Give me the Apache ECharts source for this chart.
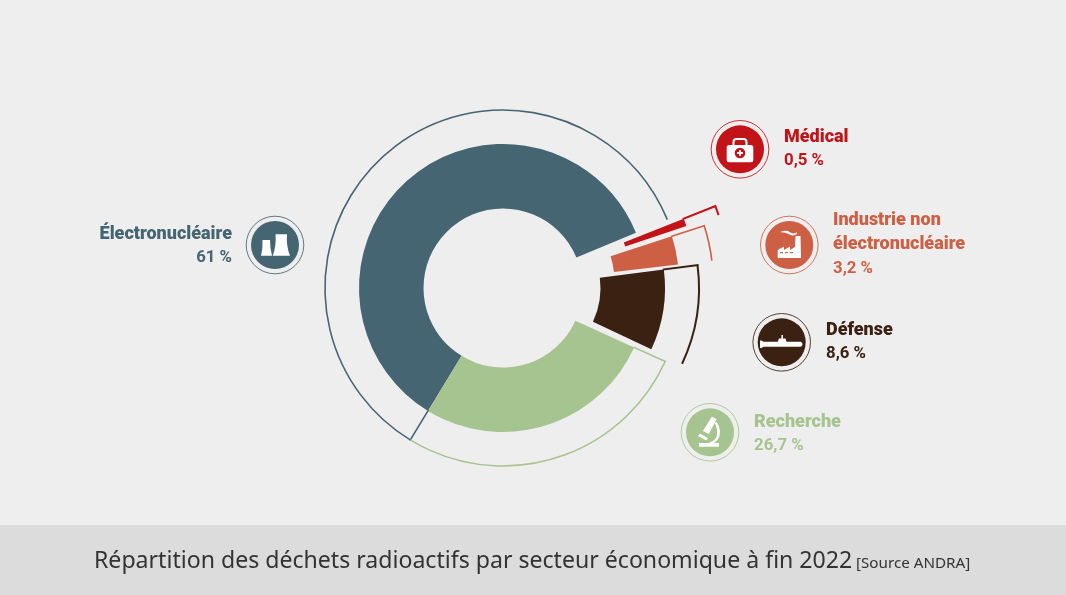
<!DOCTYPE html>
<html>
<head>
<meta charset="utf-8">
<title>Déchets radioactifs</title>
<style>
  html, body { margin: 0; padding: 0; background: #eeeeee; }
  #main { width: 1066px; height: 595px; }
</style>
</head>
<body>
<div id="main"></div>
<script src="https://cdn.jsdelivr.net/npm/echarts@6/dist/echarts.min.js"></script>
<script>
    // values
    var sectors = ['Électronucléaire', 'Médical', 'Industrie non électronucléaire', 'Défense', 'Recherche'];
    var shares = [61, 0.5, 3.2, 8.6, 26.7];
    var titleText = 'Répartition des déchets radioactifs par secteur économique à fin 2022';
    var sourceText = '[Source ANDRA]';

    // look of each slice, same order as sectors
    var colors = ['#466572', '#c21318', '#cd6044', '#3a2112', '#a6c48f'];
    var shifts = [[0, 0], [46.9, -16.1], [32, -7], [18, 0], [0, 0]];
    var edgeTrim = [[0.9, -2.7], [-1.8, -0.5], [0, 0], [-0.8, 0.8], [0, 0.9]];
    var outlineWidth = [1.6, 2, 1.6, 2, 1.6];
    var labelLines = [['Électronucléaire'], ['Médical'], ['Industrie non', 'électronucléaire'], ['Défense'], ['Recherche']];
    var labelPos = [[232, 234, 'right'], [784, 137, 'left'], [833, 220.5, 'left'], [826, 330, 'left'], [754, 422, 'left']];
    var iconPos = [[275, 245], [740, 149.3], [789.3, 245], [781.7, 342.3], [710, 432.3]];

    var cx = 503, cy = 288;
    var firstAngle = 210.5; // clockwise from 12 o'clock
    var r0 = 79.5, r1 = 144, r2 = 178;

    // clockwise angles of each slice
    var total = shares.reduce(function (a, b) { return a + b; }, 0);
    var cum = 0;
    var slices = shares.map(function (v, i) {
        var a = firstAngle + cum / total * 360;
        cum += v;
        var b = firstAngle + cum / total * 360;
        return { from: a + edgeTrim[i][0], to: b + edgeTrim[i][1] };
    });

    function toScreen(deg) {
        return (deg - 90) * Math.PI / 180;
    }

    var pieSeries = shares.map(function (v, i) {
        return {
            type: 'pie',
            name: sectors[i],
            center: [cx + shifts[i][0], cy + shifts[i][1]],
            radius: [r0, r1],
            startAngle: 90 - slices[i].from,
            endAngle: 90 - slices[i].to,
            silent: true,
            label: { show: false },
            labelLine: { show: false },
            itemStyle: { color: colors[i] },
            data: [{ name: sectors[i], value: v }]
        };
    });

    // thin arc around each slice, closed by a line on its first edge
    var outlineSeries = {
        type: 'custom',
        coordinateSystem: 'none',
        silent: true,
        clip: false,
        z: 5,
        data: shares.map(function (v) { return [v]; }),
        renderItem: function (params) {
            var i = params.dataIndex;
            var s = slices[i];
            var x = cx + shifts[i][0], y = cy + shifts[i][1];
            var a = toScreen(s.from);
            var style = { stroke: colors[i], lineWidth: outlineWidth[i], fill: 'none' };
            return {
                type: 'group',
                children: [{
                    type: 'arc',
                    shape: { cx: x, cy: y, r: r2, startAngle: a, endAngle: toScreen(s.to), clockwise: true },
                    style: style
                }, {
                    type: 'line',
                    shape: {
                        x1: x + r1 * Math.cos(a), y1: y + r1 * Math.sin(a),
                        x2: x + r2 * Math.cos(a), y2: y + r2 * Math.sin(a)
                    },
                    style: { stroke: colors[i], lineWidth: outlineWidth[i], lineCap: 'square' }
                }]
            };
        }
    };

    // white pictograms
    var glyphs = [
        { d: 'M262.5 240L270 240Q270 248 272 255.7L261 255.7Q263 248 262.5 240ZM275.5 234.3L287 234.3Q286 246 290 255.7L272.7 255.7Q276.5 246 275.5 234.3Z', box: [261, 234.3, 29, 21.4] },
        { d: 'M777.7 258V250L784 246.5V250L790 246.5V250L795 247L795.5 236H800.5L801 258Z', box: [777.7, 236, 23.3, 22] },
        { d: 'M780 232.5Q786 229.5 790 232.5Q794 235 797 232.5L797 234Q793 237 789 234.5Q785 232 780 232.5Z', box: [780, 230.8, 17, 4.6] },
        { d: 'M760 340.5H761.5L763.5 341.8H777.5L778.5 338.5H781V335H782.5V338.5H785L786 341.8H800Q803.5 344.2 800 346.8H763.5L761.5 348H760Z', box: [760, 335, 42.6, 13] },
        { d: 'M712 416.7L717 419L709 434L703 431ZM698 436L700 433.5L708 438L706.5 440.5ZM715 423L717 422Q722 430 719.5 437Q717 443 710 444L710 442Q715.5 441 717 436Q718.5 430 715 423ZM699 443H719.3V446.7H699Z', box: [698, 416.7, 22, 30] }
    ];
    var glyphSeries = {
        type: 'custom',
        coordinateSystem: 'none',
        silent: true,
        clip: false,
        z: 7,
        data: glyphs.map(function (g, i) { return [i]; }),
        renderItem: function (params) {
            var g = glyphs[params.dataIndex];
            return {
                type: 'path',
                shape: { pathData: g.d, layout: 'cover', x: g.box[0], y: g.box[1], width: g.box[2], height: g.box[3] },
                style: { fill: '#ffffff' }
            };
        }
    };

    var graphics = [{
        type: 'rect',
        shape: { x: 0, y: 525, width: 1066, height: 70 },
        style: { fill: '#dcdcdc' }
    }, {
        type: 'text',
        style: { x: 94, y: 561, text: titleText, fill: '#333333', font: '23.1px "Noto Sans"', textVerticalAlign: 'middle' }
    }, {
        type: 'text',
        style: { x: 856, y: 563.5, text: sourceText, fill: '#333333', font: '15.2px "Noto Sans"', textVerticalAlign: 'middle' }
    }];

    shares.forEach(function (v, i) {
        graphics.push({
            type: 'circle',
            shape: { cx: iconPos[i][0], cy: iconPos[i][1], r: 28.8 },
            style: { fill: 'none', stroke: colors[i], lineWidth: 1, opacity: 0.85 }
        });
        graphics.push({
            type: 'circle',
            shape: { cx: iconPos[i][0], cy: iconPos[i][1], r: 24 },
            style: { fill: colors[i] }
        });
        var lines = labelLines[i].concat([String(v).replace('.', ',') + ' %']);
        lines.forEach(function (line, n) {
            var isValue = n === lines.length - 1;
            graphics.push({
                type: 'text',
                style: {
                    x: labelPos[i][0],
                    y: labelPos[i][1] + n * 24,
                    text: line,
                    fill: colors[i],
                    font: isValue ? 'bold 16.8px Roboto' : '900 18px Roboto',
                    textAlign: labelPos[i][2],
                    textVerticalAlign: 'middle'
                }
            });
        });
    });

    // medical case
    graphics.push(
        { type: 'rect', shape: { x: 733.5, y: 139, width: 13, height: 9, r: 3 }, style: { fill: 'none', stroke: '#ffffff', lineWidth: 2 } },
        { type: 'rect', shape: { x: 726.7, y: 145, width: 26.6, height: 17.3, r: 2.5 }, style: { fill: '#ffffff' } },
        { type: 'circle', shape: { cx: 740, cy: 153, r: 5.3 }, style: { fill: colors[1] } },
        { type: 'rect', shape: { x: 737, y: 152.1, width: 6, height: 1.8 }, style: { fill: '#ffffff' } },
        { type: 'rect', shape: { x: 739.1, y: 150, width: 1.8, height: 6 }, style: { fill: '#ffffff' } }
    );

    // factory windows, drawn above the pictogram
    var windowXs = [780, 785, 790];
    var windowSeries = {
        type: 'custom',
        coordinateSystem: 'none',
        silent: true,
        clip: false,
        z: 8,
        data: windowXs.map(function (x) { return [x]; }),
        renderItem: function (params) {
            return {
                type: 'rect',
                shape: { x: windowXs[params.dataIndex], y: 252, width: 3, height: 1.2 },
                style: { fill: colors[2] }
            };
        }
    };

    var myChart = echarts.init(document.getElementById('main'));
    myChart.setOption({
        animation: false,
        backgroundColor: '#eeeeee',
        graphic: { elements: graphics },
        series: pieSeries.concat([outlineSeries, glyphSeries, windowSeries])
    });
</script>
</body>
</html>
